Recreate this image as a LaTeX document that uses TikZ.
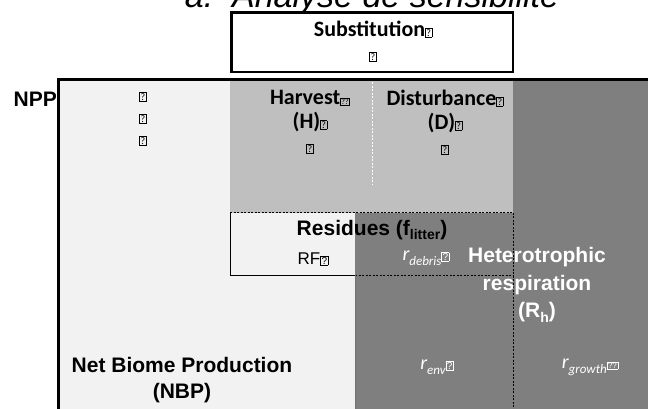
\documentclass[tikz,border=0pt]{standalone}
\usepackage{fontspec}
\setmainfont{Liberation Sans}
\newfontfamily\calfont{Carlito}
\usepackage{tikz}

\definecolor{lightfill}{HTML}{F2F2F2}
\definecolor{midfill}{HTML}{BFBFBF}
\definecolor{darkfill}{HTML}{7F7F7F}

\newcommand{\qb}{{\setlength{\fboxsep}{0.6pt}\setlength{\fboxrule}{0.6pt}\fbox{\fontsize{10}{10}\selectfont\mdseries\upshape ?}}}
\newcommand{\qbb}{{\setlength{\fboxsep}{0.6pt}\setlength{\fboxrule}{0.6pt}\fbox{\fontsize{8}{10}\selectfont\mdseries\upshape ??}}}
\newcommand{\rsub}[1]{{\calfont\itshape r}\raisebox{-0.45ex}{\fontsize{13}{13}\selectfont\calfont\itshape #1}}

\tikzset{
  arlbl/.style={font=\fontsize{21}{26}\selectfont\bfseries, align=center, inner sep=0pt},
  callbl/.style={font=\fontsize{22}{24}\selectfont\calfont\bfseries, align=center, inner sep=0pt},
  rlbl/.style={font=\fontsize{20}{20}\selectfont, text=white, inner sep=0pt},
  dashline/.style={thin, dash pattern=on 2pt off 1.5pt}
}

\begin{document}
\begin{tikzpicture}[x=1pt,y=-1pt]
  \useasboundingbox (0,0) rectangle (648,408);
  \node[font=\fontsize{34}{34}\selectfont\itshape, anchor=base] (title) at (372,7) {a.\ \ Analyse de sensibilité};

  \fill[lightfill] (58,79) rectangle (660,420);
  \fill[midfill] (230,79) rectangle (513,212.5);
  \fill[darkfill] (513,79) rectangle (660,420);
  \fill[darkfill] (355,212.5) rectangle (513,420);

  \draw[dashline, white] (372,82) -- (372,185);
  \draw[dashline] (230,212.5) -- (513,212.5);
  \draw[dashline] (355,275) -- (513,275);
  \draw[dashline] (513,212.5) -- (513,420);
  \draw[thin] (230,212.5) -- (230,275) -- (355,275);
  \draw[thin, black!55] (355,275) -- (355,420);

  \draw[line width=3pt] (58,420) -- (58,79) -- (660,79);
  \draw[line width=2.5pt, fill=white] (231.5,12.5) rectangle (513,72);

  \node[callbl] (subst) at (373,41) {Substitution\qb\\\qb};
  \node[arlbl, anchor=east] (npp) at (57,99) {NPP};
  \node[callbl] (leftq) at (143,119) {\qb\\[-2pt]\qb\\[-2pt]\qb};
  \node[callbl] (harvest) at (310,122) {Harvest\qbb\\(H)\qb\\\qb};
  \node[callbl] (disturb) at (445,122) {Disturbance\qb\\(D)\qb\\\qb};

  \node[arlbl] (resid) at (372,230) {Residues (f\raisebox{-0.4ex}{\fontsize{14}{14}\selectfont litter})};
  \node[font=\fontsize{17}{17}\selectfont, inner sep=0pt] (rf) at (313,259) {RF\qb};
  \node[rlbl] (rdebris) at (426,258) {\rsub{debris}{\fontsize{9}{9}\selectfont\qb}};
  \node[arlbl, text=white, font=\fontsize{21}{27.5}\selectfont\bfseries] (rh) at (537,285) {Heterotrophic\\respiration\\(R\raisebox{-0.4ex}{\fontsize{14}{14}\selectfont h})};
  \node[rlbl] (renv) at (437,367) {\rsub{env}\qb};
  \node[rlbl] (rgrowth) at (590,367) {\rsub{growth}\qbb};
  \node[arlbl] (nbp) at (182,380) {Net Biome Production\\(NBP)};
\end{tikzpicture}
\end{document}
